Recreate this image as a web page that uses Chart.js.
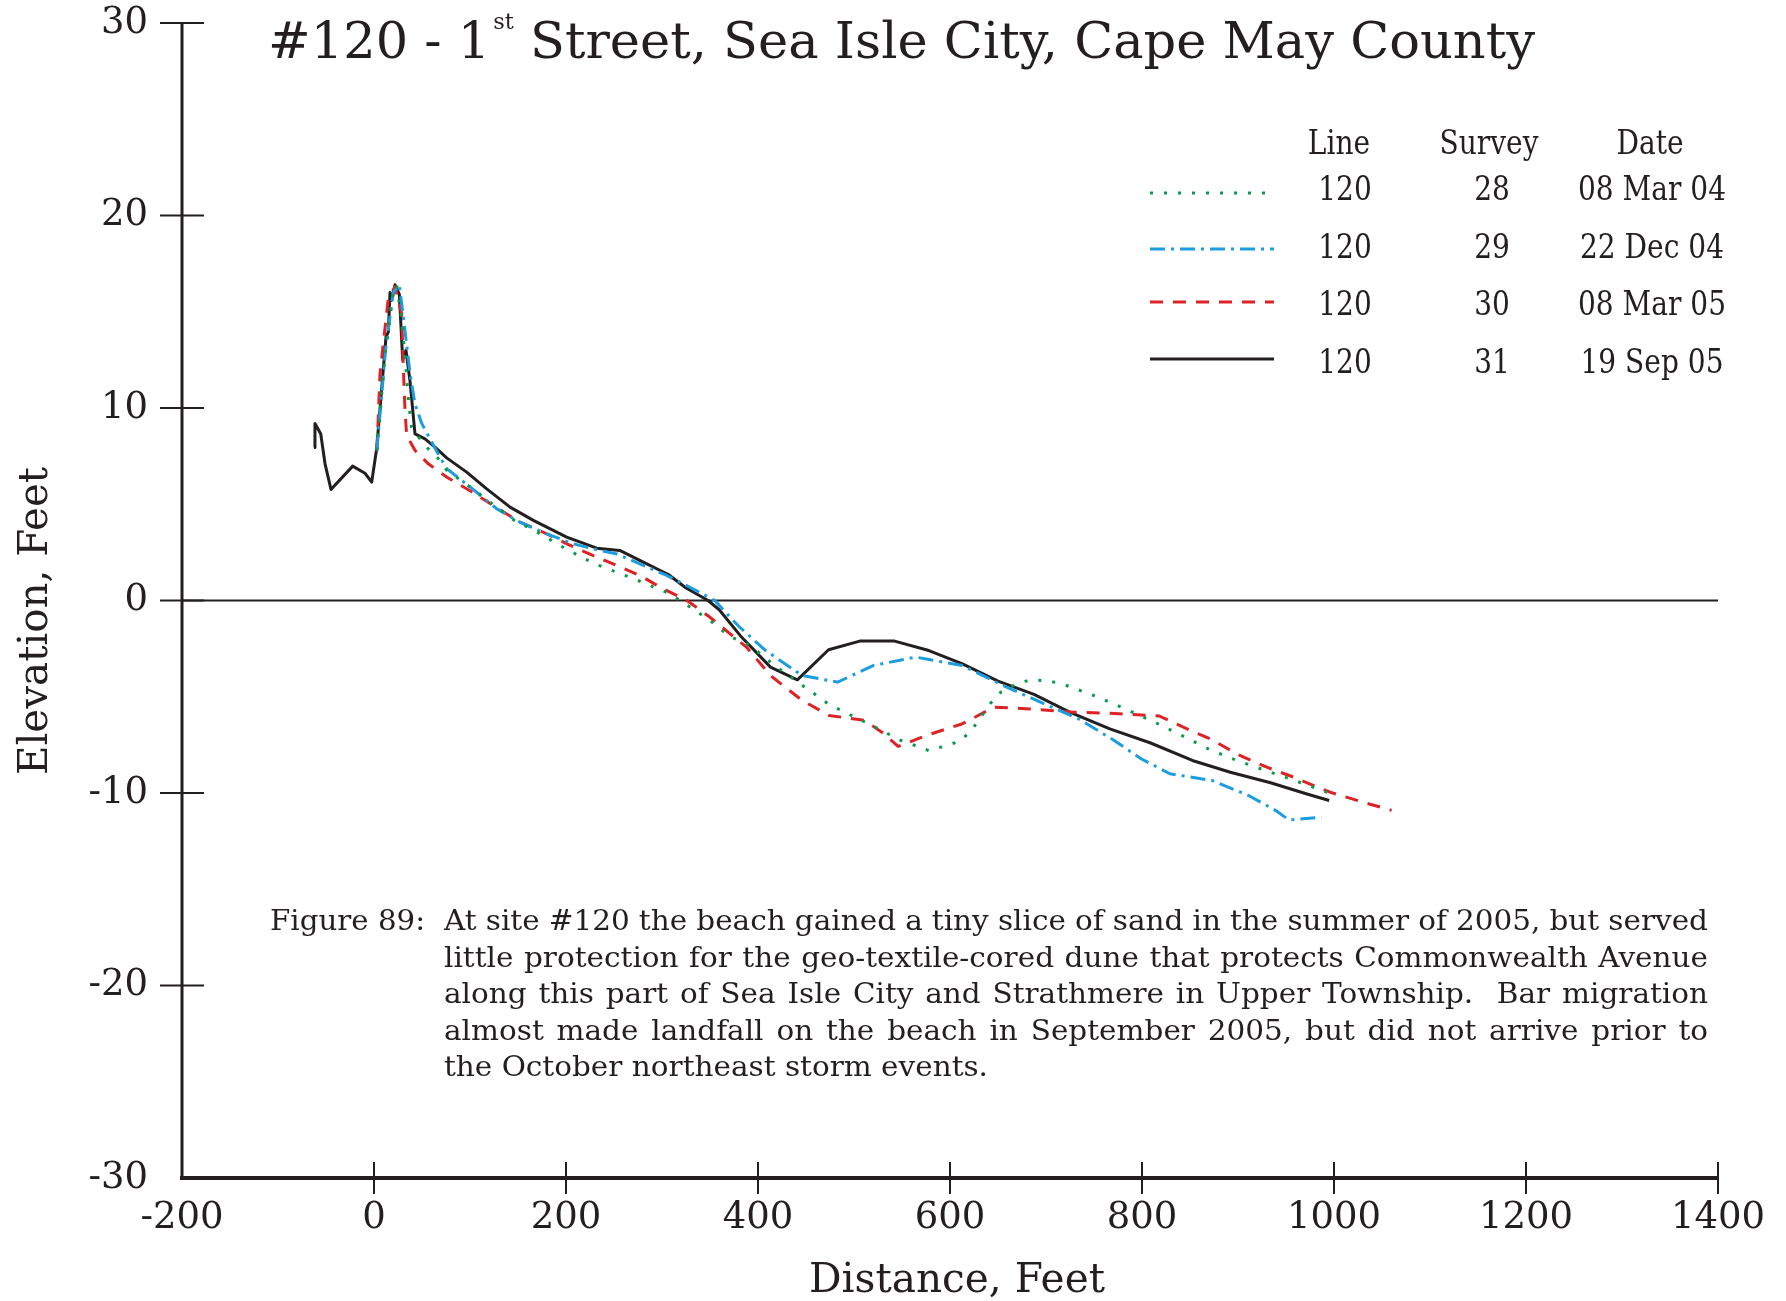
<!DOCTYPE html>
<html lang="en">
<head>
<meta charset="UTF-8">
<title>#120 - 1st Street, Sea Isle City, Cape May County</title>
<script src="https://cdn.jsdelivr.net/npm/chart.js"></script>
<style>
  html, body { margin: 0; padding: 0; background: #fff; }
  #chart { display: block; }
</style>
</head>
<body>
<canvas id="chart" width="1786" height="1301"></canvas>
<script>
// profile line 120, each point is [distance ft, elevation ft]
const survey28 = [[3,7.8],[12,13],[20,16],[23.6,16.4],[28.8,14.6],[33.3,12.1],[35.8,10.4],[39.2,9.0],[45,8.6],[53,8.05],
  [65,7.5],[76,6.75],[103,5.8],[116,5.3],[145,4.2],[170,3.55],[201,2.65],[230,1.9],[246,1.6],[277,1.0],[308,0.35],
  [322,-0.1],[350,-1.04],[369,-1.82],[392,-2.35],[418,-3.4],[446,-4.4],[474,-5.4],[515,-6.4],[548,-7.25],[578,-7.8],
  [595,-7.55],[611,-7.3],[623,-6.7],[642,-5.35],[653,-4.76],[666,-4.42],[683,-4.12],[699,-4.16],[715,-4.3],[748,-4.9],
  [779,-5.55],[811,-6.27],[841,-7.0],[871,-7.76],[901,-8.35],[934,-8.92],[964,-9.44],[995,-10.0]];
const survey29 = [[3,7.8],[12,13],[20,16],[26.4,16.4],[32.3,14.0],[37.5,11.8],[42.7,10.2],[49.7,9.2],[67,7.6],[76,6.84],
  [100,5.9],[128,4.76],[152,4.07],[180,3.46],[208,2.94],[235,2.6],[253,2.42],[277,1.9],[305,1.3],[329,0.69],[355,0],
  [371,-0.87],[381,-1.39],[408,-2.6],[446,-3.9],[483,-4.24],[520,-3.38],[564,-2.94],[613,-3.38],[659,-4.5],[706,-5.54],
  [734,-6.15],[771,-7.27],[799,-8.22],[829,-9.0],[873,-9.35],[911,-10.13],[939,-10.9],[953,-11.4],[987,-11.26]];
const survey30 = [[3,7.8],[6.3,11.8],[14.9,15.7],[22,16.3],[28.8,14.9],[30.5,12.1],[32.3,9.9],[34,8.57],[42.7,7.8],
  [56.6,7.1],[76,6.4],[100,5.7],[124,4.94],[152,4.07],[180,3.46],[201,2.94],[228,2.34],[253,1.82],[277,1.3],[301,0.61],
  [326,0],[350,-0.87],[371,-1.73],[388,-2.42],[413,-3.9],[446,-5.19],[474,-5.97],[511,-6.23],[529,-6.84],[546,-7.58],
  [576,-7.0],[613,-6.4],[646,-5.54],[683,-5.63],[729,-5.8],[776,-5.88],[818,-6.0],[843,-6.58],[871,-7.19],[902,-8.05],
  [930,-8.66],[958,-9.18],[996,-9.96],[1034,-10.53],[1060,-10.9]];
const survey31 = [[-62.5,7.95],[-61.5,9.2],[-55.5,8.66],[-51,7.1],[-44.8,5.77],[-22.2,6.98],[-9.4,6.61],[-2.4,6.15],
  [2.8,7.9],[12.5,13.7],[14.9,13.94],[16.7,16.0],[18.5,15.6],[21.9,16.4],[26.4,15.9],[29.9,12.5],[33.3,13.0],[37.5,11.4],
  [42.7,8.66],[53.1,8.4],[63.5,7.97],[75.7,7.41],[96.5,6.67],[117.4,5.8],[141.7,4.85],[166,4.16],[200.7,3.29],[232,2.72],
  [256,2.6],[280.5,1.99],[306.6,1.35],[324.7,0.66],[348,0],[359.6,-0.48],[382.8,-1.9],[413,-3.46],[441,-4.12],
  [473.5,-2.56],[506,-2.11],[542.3,-2.11],[578,-2.6],[613,-3.29],[650,-4.19],[687.5,-4.88],[724.6,-5.8],[766.5,-6.67],
  [808.3,-7.39],[852.5,-8.31],[892,-8.92],[933.9,-9.47],[971,-10.04],[995,-10.39]];

const lineNumbers = ["120", "120", "120", "120"];
const surveyNumbers = ["28", "29", "30", "31"];
const surveyDates = ["08 Mar 04", "22 Dec 04", "08 Mar 05", "19 Sep 05"];

const xRange = [-200, 1400, 200];
const yRange = [-30, 30, 10];

const captionLabel = "Figure 89:";
const captionLines = [
  "At site #120 the beach gained a tiny slice of sand in the summer of 2005, but served",
  "little protection for the geo-textile-cored dune that protects Commonwealth Avenue",
  "along this part of Sea Isle City and Strathmere in Upper Township.  Bar migration",
  "almost made landfall on the beach in September 2005, but did not arrive prior to",
  "the October northeast storm events."
];

// styles
const ink = "#231f20";
const serif = "'DejaVu Serif', 'Liberation Serif', serif";
const lineStyles = [
  { color: "#0b9a4c", dash: [3, 11], width: 3 },
  { color: "#1b9ddf", dash: [15, 6, 3, 6], width: 3 },
  { color: "#dd2326", dash: [13, 10], width: 3 },
  { color: ink, dash: [], width: 3 }
];
const surveys = [survey28, survey29, survey30, survey31];

function hLine(ctx, x1, y1, x2, y2) {
  ctx.beginPath();
  ctx.moveTo(x1, y1);
  ctx.lineTo(x2, y2);
  ctx.stroke();
}

// draw text squeezed/stretched horizontally to a set width
function fitText(ctx, text, x, y, width, align) {
  const w = ctx.measureText(text).width;
  ctx.save();
  ctx.translate(x, y);
  ctx.scale(width / w, 1);
  ctx.textAlign = align || "left";
  ctx.fillText(text, 0, 0);
  ctx.restore();
}

const frame = {
  id: "frame",
  beforeDatasetsDraw(chart) {
    const { ctx, chartArea: a, scales: { x, y } } = chart;
    ctx.save();
    ctx.strokeStyle = ink;
    ctx.lineWidth = 2;
    const y0 = y.getPixelForValue(0);
    hLine(ctx, a.left, y0, a.right, y0);
    ctx.lineWidth = 3;
    hLine(ctx, a.left, a.top, a.left, a.bottom);
    ctx.lineWidth = 4;
    hLine(ctx, a.left - 2, a.bottom, a.right, a.bottom);
    ctx.lineWidth = 2;
    y.ticks.forEach(t => {
      if (t.value === yRange[0]) return;
      const p = y.getPixelForValue(t.value);
      hLine(ctx, a.left - 22, p, a.left + 22, p);
    });
    x.ticks.forEach(t => {
      if (t.value === xRange[0]) return;
      const p = x.getPixelForValue(t.value);
      hLine(ctx, p, a.bottom - 16, p, a.bottom + 16);
    });
    ctx.restore();
  }
};

const legendTable = {
  id: "legendTable",
  afterDraw(chart) {
    const ctx = chart.ctx;
    const cols = [1345, 1492, 1652];
    ctx.save();
    ctx.fillStyle = ink;
    ctx.textBaseline = "alphabetic";
    ctx.font = "33px " + serif;
    const sx = 0.85;
    const put = (text, cx, by) => {
      ctx.save();
      ctx.translate(cx, by);
      ctx.scale(sx, 1);
      ctx.textAlign = "center";
      ctx.fillText(text, 0, 0);
      ctx.restore();
    };
    put("Line", 1339, 154);
    put("Survey", 1489, 154);
    put("Date", 1650, 154);
    const rows = [200, 258, 315, 373];
    const sampleY = [193, 249, 302, 359];
    chart.data.datasets.forEach((ds, i) => {
      ctx.save();
      ctx.strokeStyle = ds.borderColor;
      ctx.lineWidth = ds.borderWidth;
      ctx.setLineDash(ds.borderDash);
      hLine(ctx, 1150, sampleY[i], 1274, sampleY[i]);
      ctx.restore();
      put(lineNumbers[i], cols[0], rows[i]);
      put(surveyNumbers[i], cols[1], rows[i]);
      put(surveyDates[i], cols[2], rows[i]);
    });
    ctx.restore();
  }
};

const texts = {
  id: "texts",
  afterDraw(chart) {
    const ctx = chart.ctx;
    ctx.save();
    ctx.fillStyle = ink;
    ctx.textBaseline = "alphabetic";

    // title with superscript
    const head = "#120 - 1", sup = "st", tail = " Street, Sea Isle City, Cape May County";
    ctx.font = "50px " + serif;
    const wHead = ctx.measureText(head).width, wTail = ctx.measureText(tail).width;
    ctx.font = "22px " + serif;
    const wSup = ctx.measureText(sup).width + 3;
    const s = 1267 / (wHead + wSup + wTail);
    ctx.save();
    ctx.translate(268, 58);
    ctx.scale(s, 1);
    ctx.font = "50px " + serif;
    ctx.fillText(head, 0, 0);
    ctx.fillText(tail, wHead + wSup, 0);
    ctx.font = "22px " + serif;
    ctx.fillText(sup, wHead + 3, -29);
    ctx.restore();

    // axis titles
    ctx.font = "41px " + serif;
    fitText(ctx, "Distance, Feet", 957, 1292, 296, "center");
    ctx.save();
    ctx.translate(47, 621);
    ctx.rotate(-Math.PI / 2);
    fitText(ctx, "Elevation, Feet", 0, 0, 308, "center");
    ctx.restore();

    // figure caption, justified
    ctx.font = "27px " + serif;
    const cs = 544 / ctx.measureText(captionLines[4]).width;
    const left = 444, right = 1708, base = 930, lead = 36.5;
    fitText(ctx, captionLabel, 270, base, (425 - 270), "left");
    captionLines.forEach((ln, i) => {
      const by = base + i * lead;
      if (i === captionLines.length - 1) {
        fitText(ctx, ln, left, by, 544, "left");
        return;
      }
      const words = ln.split(" ");
      const widths = words.map(w => ctx.measureText(w).width * cs);
      const total = widths.reduce((p, q) => p + q, 0);
      const gap = (right - left - total) / (words.length - 1);
      let cx = left;
      words.forEach((w, k) => {
        if (w) {
          ctx.save();
          ctx.translate(cx, by);
          ctx.scale(cs, 1);
          ctx.fillText(w, 0, 0);
          ctx.restore();
        }
        cx += widths[k] + gap;
      });
    });
    ctx.restore();
  }
};

const tickFont = { family: serif, size: 37 };

new Chart(document.getElementById("chart"), {
  type: "line",
  data: {
    datasets: surveys.map((pts, i) => ({
      label: "Survey " + surveyNumbers[i],
      data: pts.map(p => ({ x: p[0], y: p[1] })),
      borderColor: lineStyles[i].color,
      borderDash: lineStyles[i].dash,
      borderWidth: lineStyles[i].width,
      borderCapStyle: "butt",
      borderJoinStyle: "round",
      pointRadius: 0,
      fill: false,
      tension: 0
    }))
  },
  options: {
    responsive: false,
    animation: false,
    layout: { padding: { top: 23, right: 68, left: 0, bottom: 0 } },
    plugins: { legend: { display: false }, tooltip: { enabled: false } },
    scales: {
      x: {
        type: "linear",
        min: xRange[0], max: xRange[1],
        afterFit: sc => { sc.height = 123; sc.paddingLeft = 0; sc.paddingRight = 0; },
        grid: { display: false, drawTicks: false },
        border: { display: false },
        ticks: { stepSize: xRange[2], color: ink, font: tickFont, padding: 18, maxRotation: 0, autoSkip: false,
          callback: v => String(v) }
      },
      y: {
        type: "linear",
        min: yRange[0], max: yRange[1],
        afterFit: sc => { sc.width = 182; sc.paddingTop = 0; sc.paddingBottom = 0; },
        grid: { display: false, drawTicks: false },
        border: { display: false },
        ticks: { stepSize: yRange[2], color: ink, font: tickFont, padding: 34, callback: v => String(v) }
      }
    }
  },
  plugins: [frame, legendTable, texts]
});
</script>
</body>
</html>
